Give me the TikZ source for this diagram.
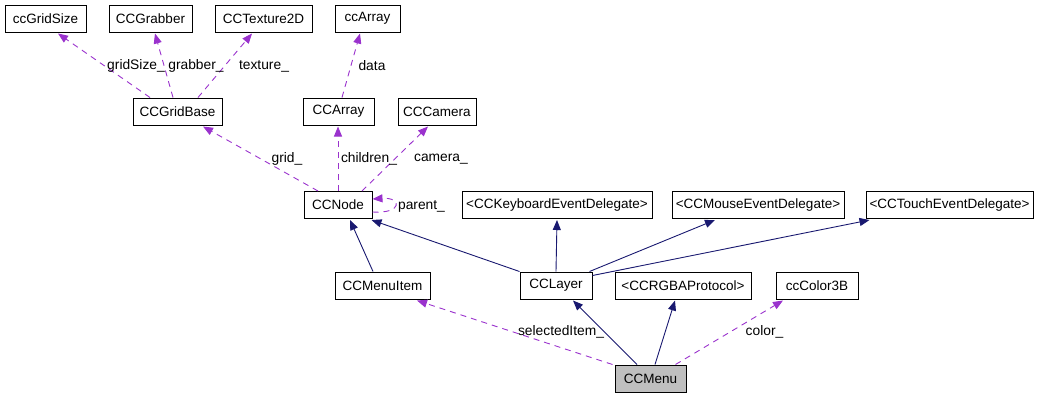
\documentclass[tikz,border=0pt]{standalone}
\usepackage{fontspec}
\setmainfont{Liberation Sans}
\usetikzlibrary{arrows.meta}
\definecolor{collabcol}{HTML}{9A32CD}
\definecolor{inhercol}{HTML}{191970}
\begin{document}
\begin{tikzpicture}[x=1pt, y=-1pt,
  cls/.style={draw, line width=1pt, inner sep=0pt, minimum height=27pt, font=\fontsize{13.5}{15}\selectfont},
  lbl/.style={inner sep=0pt, font=\fontsize{13.8}{15}\selectfont},
  usage/.style={collabcol, line width=0.9pt, dash pattern=on 6pt off 5pt, -{Triangle[length=10pt,width=8pt]}},
  inherit/.style={inhercol, line width=0.9pt, -{Triangle[length=10pt,width=8pt]}}]
% Page frame
\useasboundingbox (0,0) rectangle (1037,400);
% Classes, top row
\node[cls, minimum width=81pt] (gridsize) at (45.5,18.5) {ccGridSize};
\node[cls, minimum width=83pt] (grabber) at (150.5,18.5) {CCGrabber};
\node[cls, minimum width=97pt] (texture) at (263.5,18.5) {CCTexture2D};
\node[cls, minimum width=65pt] (ccarray) at (367.5,18.5) {ccArray};
% Second row
\node[cls, minimum width=89pt] (gridbase) at (177.5,111.5) {CCGridBase};
\node[cls, minimum width=71pt] (array) at (338.5,111.5) {CCArray};
\node[cls, minimum width=78pt] (camera) at (437,111.5) {CCCamera};
% Third row
\node[cls, minimum width=68pt] (node) at (338,205) {CCNode};
\node[cls, minimum width=190pt] (keyboard) at (557,205) {<CCKeyboardEventDelegate>};
\node[cls, minimum width=172pt] (mouse) at (758,205) {<CCMouseEventDelegate>};
\node[cls, minimum width=167pt] (touch) at (949.5,205) {<CCTouchEventDelegate>};
% Fourth row
\node[cls, minimum width=95pt] (menuitem) at (382.5,285.5) {CCMenuItem};
\node[cls, minimum width=72pt] (layer) at (556,285.5) {CCLayer};
\node[cls, minimum width=136pt] (rgba) at (683,285.5) {<CCRGBAProtocol>};
\node[cls, minimum width=82pt] (color) at (817,285.5) {ccColor3B};
% The class itself
\node[cls, fill=black!25, minimum width=71pt] (menu) at (650.5,378.5) {CCMenu};
% Member links
\draw[usage] ([xshift=-27.5pt]gridbase.north) -- ([xshift=12.5pt,yshift=-1pt]gridsize.south);
\draw[usage] ([xshift=-4.5pt]gridbase.north) -- ([xshift=4.5pt,yshift=-1pt]grabber.south);
\draw[usage] ([xshift=20.5pt]gridbase.north) -- ([xshift=-11.5pt,yshift=-1pt]texture.south);
\draw[usage] ([xshift=3.5pt]array.north) -- ([xshift=-7.5pt,yshift=-1pt]ccarray.south);
\draw[usage] ([xshift=-20pt]node.north) -- ([xshift=25.5pt,yshift=-1pt]gridbase.south);
\draw[usage] (node.north) -- ([xshift=-0.5pt,yshift=-1pt]array.south);
\draw[usage] ([xshift=24pt]node.north) -- ([xshift=-9pt,yshift=-1pt]camera.south);
\draw[usage] ([yshift=-7pt]node.east) .. controls +(30,2) and +(30,-2) .. ([yshift=6pt]node.east);
\draw[usage] ([xshift=-2pt]menu.north west) -- ([xshift=34.5pt,yshift=-1pt]menuitem.south);
\draw[usage] ([xshift=-11pt]menu.north east) -- ([xshift=-34pt,yshift=-1pt]color.south);
% Member names
\node[lbl] (lgridsize) at (136,66) {gridSize\_};
\node[lbl] (lgrabber) at (196,66) {grabber\_};
\node[lbl] (ltexture) at (264,66) {texture\_};
\node[lbl] (ldata) at (372,66) {data};
\node[lbl] (lgrid) at (287,159) {grid\_};
\node[lbl] (lchildren) at (369,159) {children\_};
\node[lbl] (lcamera) at (441,159) {camera\_};
\node[lbl] (lparent) at (421.5,206) {parent\_};
\node[lbl] (lselected) at (561,332) {selectedItem\_};
\node[lbl] (lcolor) at (764.5,332) {color\_};
% Base classes
\draw[inherit] ([xshift=-9.5pt]menuitem.north) -- ([xshift=12pt,yshift=-1pt]node.south);
\draw[inherit] (layer.north west) -- ([xshift=-1pt,yshift=-1pt]node.south east);
\draw[inherit] (layer.north) -- ([yshift=-1pt]keyboard.south);
\draw[inherit] ([xshift=-3pt]layer.north east) -- ([xshift=-43pt,yshift=-1pt]mouse.south);
\draw[inherit] ([yshift=-4pt]layer.north east) -- ([xshift=-80pt,yshift=-1pt]touch.south);
\draw[inherit] ([xshift=-13.5pt]menu.north) -- ([xshift=17pt,yshift=-1pt]layer.south);
\draw[inherit] ([xshift=4.5pt]menu.north) -- ([xshift=-8pt,yshift=-1pt]rgba.south);
\end{tikzpicture}
\end{document}
